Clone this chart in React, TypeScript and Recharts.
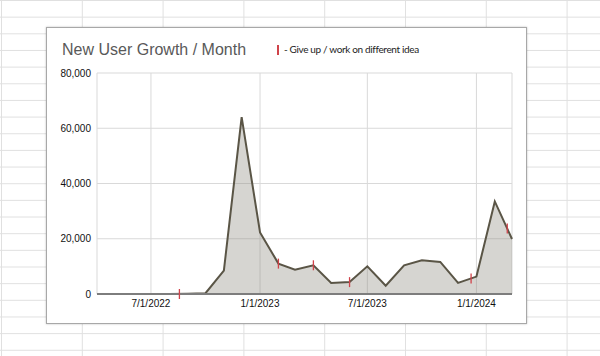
import { ComposedChart, Area, Scatter, XAxis, YAxis, CartesianGrid } from "recharts"

const months = [
  "2022-04-01", "2022-05-01", "2022-06-01", "2022-07-01", "2022-08-01", "2022-09-01",
  "2022-10-01", "2022-11-01", "2022-12-01", "2023-01-01", "2023-02-01", "2023-03-01",
  "2023-04-01", "2023-05-01", "2023-06-01", "2023-07-01", "2023-08-01", "2023-09-01",
  "2023-10-01", "2023-11-01", "2023-12-01", "2024-01-01", "2024-02-01", "2024-03-01",
]
const newUsers = [
  0, 0, 0, 0, 0, 100,
  300, 8500, 64000, 22300, 11000, 8800,
  10400, 4000, 4300, 10000, 3000, 10400,
  12200, 11600, 4000, 6300, 33500, 19900,
]

// "give up / work on different idea" moments
const giveUpDates = ["2022-08-18", "2023-02-01", "2023-04-01", "2023-06-01", "2023-12-23", "2024-02-22"]
const giveUpValues = [0, 11000, 10400, 4300, 5600, 23700]

const xTicks = ["2022-07-01", "2023-01-01", "2023-07-01", "2024-01-01"]
const yTicks = [0, 20000, 40000, 60000, 80000]

const toTime = (d: string) => Date.parse(d + "T00:00:00Z")
const fmtDate = (t: number) => {
  const d = new Date(t)
  return `${d.getUTCMonth() + 1}/${d.getUTCDate()}/${d.getUTCFullYear()}`
}

const data = months.map((m, i) => ({ t: toTime(m), users: newUsers[i] }))
const markers = giveUpDates.map((d, i) => ({ t: toTime(d), users: giveUpValues[i] }))

const RED = "#d0434a"
const font = "'Liberation Sans', Arial, sans-serif"

const Tick = (props: any) => {
  const { cx, cy } = props
  return <line x1={cx} x2={cx} y1={cy - 5} y2={cy + 5} stroke={RED} strokeWidth={1.3} />
}

export default function App() {
  return (
    <div
      style={{
        position: "absolute",
        left: 0,
        top: 0,
        width: 600,
        height: 356,
        overflow: "hidden",
        backgroundColor: "#fff",
        backgroundImage:
          "linear-gradient(to right, #e0e0e0 1px, transparent 1px), linear-gradient(to bottom, #e0e0e0 1px, transparent 1px)",
        backgroundSize: "80.8px 16.67px",
        backgroundPosition: "1px 0px",
      }}
    >
      <div
        style={{
          position: "absolute",
          left: 46,
          top: 27,
          width: 479,
          height: 295,
          background: "#fff",
          border: "1px solid #a8a8a8",
          boxShadow: "0 0 2px rgba(0,0,0,0.25)",
        }}
      >
        <div
          style={{
            position: "absolute",
            left: 15,
            top: 13,
            fontFamily: font,
            fontSize: 16,
            color: "#595959",
            whiteSpace: "nowrap",
          }}
        >
          New User Growth / Month
        </div>
        <div
          style={{
            position: "absolute",
            left: 230,
            top: 17,
            width: 1.5,
            height: 10,
            background: RED,
          }}
        />
        <div
          style={{
            position: "absolute",
            left: 237,
            top: 15,
            fontFamily: "Lato, 'Open Sans', sans-serif",
            fontSize: 10,
            letterSpacing: -0.35,
            color: "#222",
            whiteSpace: "nowrap",
          }}
        >
          - Give up / work on different idea
        </div>
        <ComposedChart
          width={479}
          height={295}
          data={data}
          margin={{ top: 45, right: 14, bottom: 9, left: 0 }}
        >
          <CartesianGrid stroke="#d9d9d9" strokeWidth={1} />
          <XAxis
            dataKey="t"
            type="number"
            scale="time"
            domain={[toTime(months[0]), toTime(months[months.length - 1])]}
            ticks={xTicks.map(toTime)}
            tickFormatter={fmtDate}
            tickLine={false}
            axisLine={{ stroke: "#7d7d7d", strokeWidth: 2 }}
            tickMargin={0}
            height={20}
            tick={{ fontSize: 10, fill: "#111", fontFamily: font }}
          />
          <YAxis
            type="number"
            domain={[0, 80000]}
            ticks={yTicks}
            tickFormatter={(v: number) => v.toLocaleString("en-US")}
            tickLine={false}
            axisLine={false}
            tickMargin={0}
            width={50}
            tick={{ fontSize: 10, fill: "#111", fontFamily: font }}
          />
          <Area
            type="linear"
            dataKey="users"
            stroke="#5a5546"
            strokeWidth={2}
            fill="#8d8a80"
            fillOpacity={0.36}
            isAnimationActive={false}
            dot={false}
            activeDot={false}
          />
          <Scatter
            data={markers}
            dataKey="users"
            shape={Tick}
            isAnimationActive={false}
          />
        </ComposedChart>
      </div>
    </div>
  )
}
